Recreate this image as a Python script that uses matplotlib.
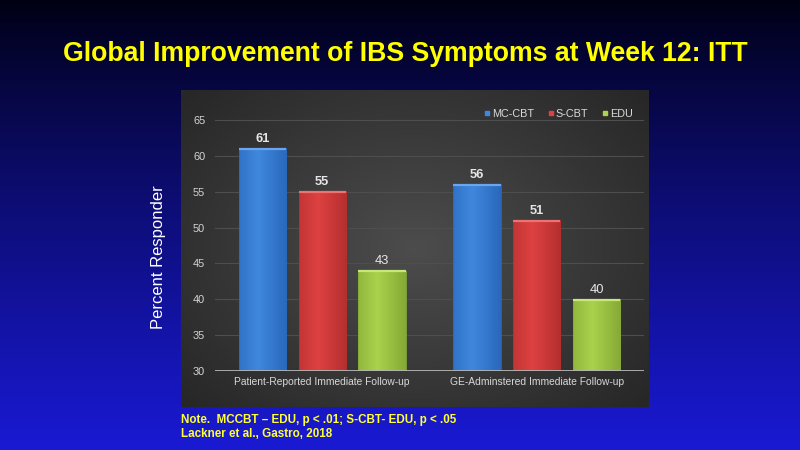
import numpy as np
import matplotlib
matplotlib.use('Agg')
import matplotlib.pyplot as plt
from matplotlib.lines import Line2D
from matplotlib.colors import LinearSegmentedColormap
from matplotlib import font_manager

# ---------------- data ----------------
categories = ["Patient-Reported Immediate Follow-up", "GE-Adminstered Immediate Follow-up"]
series_names = ["MC-CBT", "S-CBT", "EDU"]
mc_cbt = [61, 56]
s_cbt = [55, 51]
edu = [44, 40]
mc_cbt_labels = ["61", "56"]
s_cbt_labels = ["55", "51"]
edu_labels = ["43", "40"]
yticks = [30, 35, 40, 45, 50, 55, 60, 65]
title_text = "Global Improvement of IBS Symptoms at Week 12: ITT"
ylabel_text = "Percent Responder"
note_lines = ["Note.  MCCBT \u2013 EDU, p < .01; S-CBT- EDU, p < .05",
              "Lackner et al., Gastro, 2018"]

# ---------------- style ----------------
names = {f.name for f in font_manager.fontManager.ttflist}
base_font = 'Liberation Sans' if 'Liberation Sans' in names else 'DejaVu Sans'
narrow_font = 'Liberation Sans Narrow' if 'Liberation Sans Narrow' in names else base_font
plt.rcParams['font.family'] = [base_font, 'DejaVu Sans']

W, H, DPI = 800, 450, 100
fig = plt.figure(figsize=(W / DPI, H / DPI), dpi=DPI)

def fx(px):
    return px / W

def fy(py):
    return 1 - py / H

# background gradient
bg = fig.add_axes([0, 0, 1, 1], zorder=-10)
t = np.linspace(0, 1, 300)[:, None] ** 0.85
top = np.array([0.0, 0.0, 0.07])
bot = np.array([0.10, 0.10, 0.83])
grad = top[None, None, :] * (1 - t[..., None]) + bot[None, None, :] * t[..., None]
grad = np.repeat(grad, 2, axis=1)
bg.imshow(grad, aspect='auto', extent=[0, 1, 0, 1], origin='upper')
bg.set_axis_off()

# panel
px0, px1, py0, py1 = 181, 649, 90, 407
panel = fig.add_axes([fx(px0), fy(py1), fx(px1 - px0), (py1 - py0) / H], zorder=-5)
yy, xx = np.mgrid[0:1:200j, 0:1:300j]
r = np.sqrt(((xx - 0.5) / 0.55) ** 2 + ((yy - 0.5) / 0.6) ** 2)
r = np.clip(r / 1.2, 0, 1)
c_center, c_edge = 0.30, 0.155
v = c_center * (1 - r) + c_edge * r
panel.imshow(np.dstack([v, v, v]), aspect='auto', extent=[0, 1, 0, 1])
panel.set_axis_off()

# main axes
ax_left, ax_right = 215, 644
y30, y65 = 371.3, 119.7
ppu = (y30 - y65) / 35.0
ytop_val = 65.3
ytop_px = y30 - (ytop_val - 30) * ppu
ax = fig.add_axes([fx(ax_left), fy(y30), fx(ax_right - ax_left), (y30 - ytop_px) / H])
ax.patch.set_alpha(0)
for s in ax.spines.values():
    s.set_visible(False)

colors_center = ["#3f88de", "#de4141", "#aad24c"]
colors_edge = ["#2a68bb", "#b52f2f", "#86aa36"]
colors_top = ["#6aa6ee", "#ee7272", "#c8e67a"]
legend_colors = ["#3f88de", "#de4141", "#aad24c"]
label_weights = ["bold", "bold", "normal"]

values = [mc_cbt, s_cbt, edu]
labels = [mc_cbt_labels, s_cbt_labels, edu_labels]
x = np.arange(len(categories))
step = 0.279
width = 0.221

prof = np.linspace(0, 1, 64)
shade = 1 - np.abs(prof - 0.4) / 0.6
for j, (vals, labs) in enumerate(zip(values, labels)):
    cmap = LinearSegmentedColormap.from_list('g%d' % j, [colors_edge[j], colors_center[j]])
    bars = ax.bar(x + (j - 1) * step, vals, width, bottom=0, color='none',
                  edgecolor=colors_edge[j], linewidth=0.6, zorder=3)
    for b, lab in zip(bars, labs):
        bx, bw, bh = b.get_x(), b.get_width(), b.get_height()
        ax.imshow(shade[None, :], cmap=cmap, vmin=0, vmax=1, aspect='auto',
                  extent=[bx, bx + bw, 0, bh], zorder=2.5, interpolation='bilinear')
        ax.plot([bx, bx + bw], [bh - 0.08, bh - 0.08], color=colors_top[j], lw=1.6,
                zorder=3.5, solid_capstyle='butt')
        ax.annotate(lab, (bx + bw / 2, bh), xytext=(0, 4.5), textcoords='offset points',
                    ha='center', va='baseline', fontsize=9.3, color='#e6e6e6',
                    fontweight=label_weights[j], zorder=5)

ax.set_xlim(-0.5, len(categories) - 0.5)
ax.set_ylim(30, ytop_val)
ax.set_yticks(yticks)
ax.set_yticklabels([str(v) for v in yticks])
ax.set_xticks(x)
ax.set_xticklabels(categories)
ax.tick_params(axis='y', length=0, pad=7, labelsize=7.9, labelcolor='#d4d4d4')
ax.tick_params(axis='x', length=0, pad=4, labelsize=7.4, labelcolor='#d8d8d8')
ax.set_axisbelow(True)
for v in yticks[1:]:
    ax.axhline(v, color='#4e4e4e', lw=0.8, zorder=1)
ax.axhline(30, color='#b5b5b5', lw=1.3, zorder=4)

handles = [Line2D([0], [0], marker='s', linestyle='none', markersize=3.4,
                  markerfacecolor=c, markeredgecolor=c) for c in legend_colors]
leg = ax.legend(handles, series_names, ncol=3, loc='center right',
                bbox_to_anchor=((633 - ax_left) / (ax_right - ax_left),
                                (y30 - 113.7) / (y30 - ytop_px)),
                frameon=False, fontsize=7.8, handlelength=0.5, handletextpad=0.2,
                columnspacing=1.3, borderpad=0, borderaxespad=0)
for txt in leg.get_texts():
    txt.set_color('#dadada')

# texts
title = fig.text(fx(405), fy(61), title_text, ha='center', va='baseline',
                 color='#ffff00', fontsize=21, fontweight='bold',
                 family=[narrow_font, base_font])
fig.text(fx(158), fy(257), ylabel_text, rotation=90, ha='center', va='center',
         color='white', fontsize=12)
fig.text(fx(181), fy(420), note_lines[0], ha='left', va='center', color='#ffff33',
         fontsize=8.4, fontweight='bold')
fig.text(fx(181), fy(434), note_lines[1], ha='left', va='center', color='#ffff33',
         fontsize=8.4, fontweight='bold')

# fit title width to ~686 px
fig.canvas.draw()
renderer = fig.canvas.get_renderer()
wpx = title.get_window_extent(renderer).width
title.set_fontsize(21 * 686.0 / wpx)

fig.savefig('out.png', dpi=DPI)
